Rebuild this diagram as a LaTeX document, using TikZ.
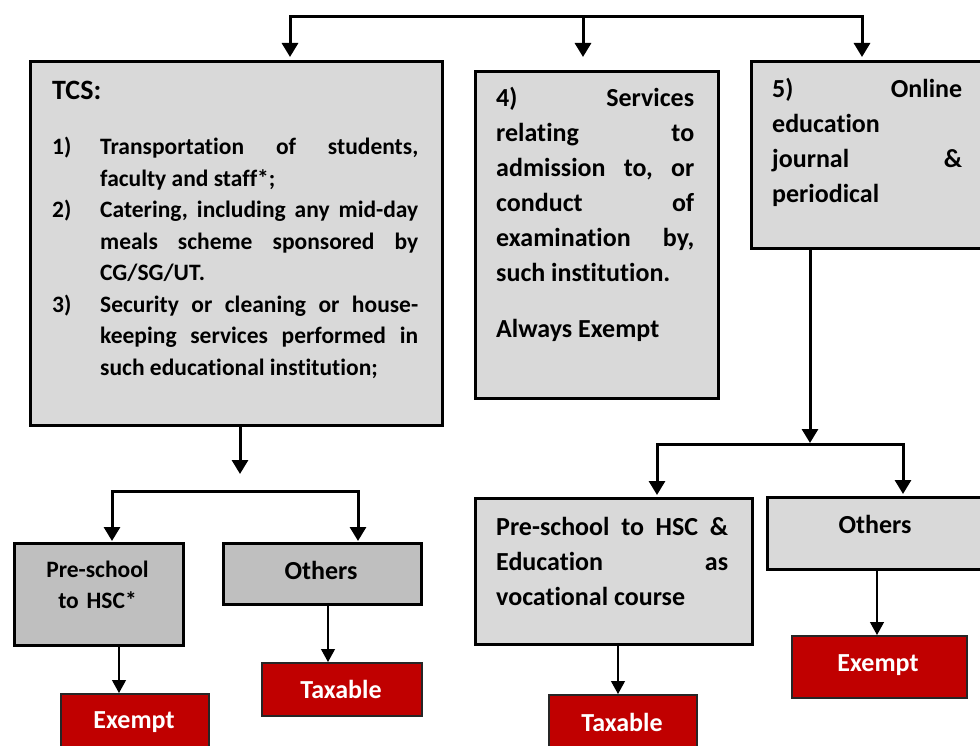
\documentclass[tikz,border=0pt]{standalone}
\usepackage{fontspec}
\setmainfont{Carlito}[Ligatures={CommonOff,ContextualOff},Contextuals=AlternateOff]
\usetikzlibrary{arrows.meta}
\definecolor{boxgray}{HTML}{D9D9D9}
\definecolor{boxgrayd}{HTML}{BFBFBF}
\definecolor{taxred}{HTML}{C00000}
\tikzset{
  gbox/.style={draw=black, line width=3pt, fill=boxgray, anchor=north west, inner sep=0pt},
  dbox/.style={gbox, fill=boxgrayd},
  rbox/.style={draw=black!85, line width=2pt, fill=taxred, anchor=north west, inner sep=0pt},
  txt/.style={inner sep=0pt, font=\bfseries\fontsize{26}{35}\selectfont},
  stxt/.style={inner sep=0pt, font=\bfseries\fontsize{23.5}{31}\selectfont},
  rtxt/.style={txt, text=white},
  thk/.style={line width=3pt, line join=miter, >={Triangle[length=14pt,width=16pt]}},
  thn/.style={line width=1.2pt, >={Triangle[length=13pt,width=14pt]}}
}
\begin{document}
\begin{tikzpicture}[x=1pt,y=-1pt]
\useasboundingbox (0,0) rectangle (980,746);
\clip (0,0) rectangle (980,746);
\fill[white] (0,0) rectangle (980,746);
% boxes
\node[gbox, minimum width=412pt, minimum height=364pt] (tcs) at (29,60) {};
\node[gbox, minimum width=243pt, minimum height=327pt] (b4) at (474,70) {};
\node[gbox, minimum width=240pt, minimum height=187pt] (b5) at (750,60) {};
\node[dbox, minimum width=169pt, minimum height=102pt] (psl) at (13,542) {};
\node[dbox, minimum width=198pt, minimum height=61pt] (otl) at (222,542) {};
\node[gbox, minimum width=277pt, minimum height=146pt] (psr) at (474,497) {};
\node[gbox, minimum width=224pt, minimum height=72pt] (otr) at (766,496) {};
\node[rbox, minimum width=148pt, minimum height=67pt] (exl) at (60,693) {};
\node[rbox, minimum width=160pt, minimum height=53pt] (txl) at (261,662) {};
\node[rbox, minimum width=148pt, minimum height=66pt] (txr) at (548,694) {};
\node[rbox, minimum width=175pt, minimum height=62pt] (exr) at (791,635) {};
% texts
\node[txt, anchor=base west, text width=366pt, align=justify] (tcst) at (52,100)
 {{\fontsize{28}{34}\selectfont TCS:}\par\vspace{23.5pt}\fontsize{23.5}{31.5}\selectfont
  \hangindent=48pt\hangafter=1\makebox[48pt][l]{1)}Transportation\hfill of\hfill students,\\ faculty and staff*;\par
  \hangindent=48pt\hangafter=1\makebox[48pt][l]{2)}Catering,\hfill including\hfill any\hfill mid-day\\ meals\hfill scheme\hfill sponsored\hfill by\\ CG/SG/UT.\par
  \hangindent=48pt\hangafter=1\makebox[48pt][l]{3)}Security\hfill or\hfill cleaning\hfill or\hfill house-\\ keeping\hfill services\hfill performed\hfill in\\ such educational institution;\par};
\node[txt, anchor=base west, text width=198pt, align=justify] (b4t) at (496,107)
 {4)\hfill Services\\ relating\hfill to\\ admission\hfill to,\hfill or\\ conduct\hfill of\\ examination\hfill by,\\ such institution.\par\vspace{21pt}Always Exempt\par};
\node[txt, anchor=base west, text width=190pt, align=justify] (b5t) at (772,98)
 {5)\hfill Online\\ education\\ journal\hfill\&\\ periodical\par};
\node[txt, anchor=base west, text width=232pt, align=justify] (psrt) at (496,535)
 {Pre-school\hfill to\hfill HSC\hfill\&\\ Education\hfill as\\ vocational course\par};
\node[stxt, anchor=base, text width=169pt, align=center] (pslt) at (97.5,577) {Pre-school\\to HSC*};
\node[txt, anchor=base] (otlt) at (321,579) {Others};
\node[txt, anchor=base] (otrt) at (875,533) {Others};
\node[rtxt, anchor=base] (exlt) at (134,728) {Exempt};
\node[rtxt, anchor=base] (txlt) at (341,698) {Taxable};
\node[rtxt, anchor=base] (txrt) at (622,731) {Taxable};
\node[rtxt, anchor=base] (exrt) at (878,671) {Exempt};
% connector points
\coordinate (t1) at (290,17);
\coordinate (t2) at (583,17);
\coordinate (t3) at (862,17);
\coordinate (m1) at (240,474);
\coordinate (l1) at (112,491);
\coordinate (l2) at (358,491);
\coordinate (r0) at (810,443);
\coordinate (r1) at (657,444);
\coordinate (r2) at (903,444);
\coordinate (xa) at (119,0);
\coordinate (xb) at (328,0);
\coordinate (xc) at (618,0);
\coordinate (xd) at (877,0);
% thick connectors
\draw[thk,<->, shorten <=3pt, shorten >=3pt] (tcs.north -| t1) -- (t1) -- (t3) -- (b5.north -| t3);
\draw[thk,->, shorten >=13pt] (t2) -- (b4.north -| t2);
\draw[thk,->] (tcs.south -| m1) -- (m1);
\draw[thk,<->, shorten <=1pt, shorten >=1pt] (psl.north -| l1) -- (l1) -- (l2) -- (otl.north -| l2);
\draw[thk,->] (b5.south -| r0) -- (r0);
\draw[thk,<->, shorten <=2pt, shorten >=2pt] (psr.north -| r1) -- (r1) -- (r2) -- (otr.north -| r2);
% thin connectors
\draw[thn,->] (psl.south -| xa) -- (exl.north -| xa);
\draw[thn,->] (otl.south -| xb) -- (txl.north -| xb);
\draw[thn,->] (psr.south -| xc) -- (txr.north -| xc);
\draw[thn,->] (otr.south -| xd) -- (exr.north -| xd);
\end{tikzpicture}
\end{document}
